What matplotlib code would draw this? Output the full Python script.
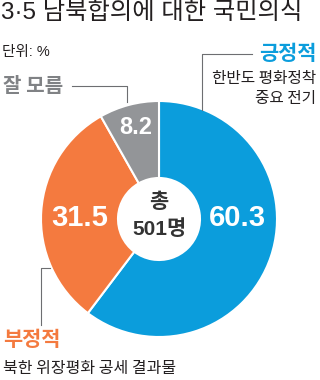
import matplotlib
matplotlib.use("Agg")
import matplotlib.pyplot as plt

# data
labels = ["긍정적", "부정적", "잘 모름"]
values = [60.3, 31.5, 8.2]
colors = ["#0b9ddc", "#f47a3f", "#939598"]
notes = {"긍정적": "한반도 평화정착\n중요 전기", "부정적": "북한 위장평화 공세 결과물"}

KR = "Noto Sans CJK KR"
LAT = ["Liberation Sans", KR]
plt.rcParams["font.family"] = [KR, "DejaVu Sans"]

W, H = 320, 380
fig = plt.figure(figsize=(3.2, 3.8), dpi=100)
ax = fig.add_axes([0, 0, 1, 1])


def Y(y):
    return H - y


cx, cy, R, r = 159, 219, 118, 41
ax.pie(values, colors=colors, startangle=90, counterclock=False,
       radius=R, center=(cx, Y(cy)),
       wedgeprops=dict(width=R - r, edgecolor="white", linewidth=1.5))
ax.set_xlim(0, W)
ax.set_ylim(0, H)
ax.axis("off")

# values inside wedges
ax.text(237, Y(218), f"{values[0]}", color="white", fontsize=21, fontweight="bold",
        family=LAT, ha="center", va="center")
ax.text(80, Y(218), f"{values[1]}", color="white", fontsize=21, fontweight="bold",
        family=LAT, ha="center", va="center")
ax.text(136, Y(127), f"{values[2]}", color="white", fontsize=17, fontweight="bold",
        family=LAT, ha="center", va="center")

# centre
ax.text(cx, Y(201), "총", color="#333333", fontsize=15, fontweight="bold", ha="center", va="center")
ax.text(cx, Y(229), "501명", color="#333333", fontsize=15, fontweight="bold",
        family=LAT, ha="center", va="center")

# title
ax.text(1, Y(13), "3·5 남북합의에 대한 국민의식", color="#231f20", fontsize=17.5,
        family=LAT, ha="left", va="center")
ax.text(2, Y(52), "단위: %", color="#231f20", fontsize=10.5, family=LAT, ha="left", va="center")

# labels
ax.text(316, Y(54), labels[0], color=colors[0], fontsize=15, fontweight="bold", ha="right", va="center")
ax.text(316, Y(78), "한반도 평화정착", color="#231f20", fontsize=11.3, ha="right", va="center")
ax.text(316, Y(98), "중요 전기", color="#231f20", fontsize=11.3, ha="right", va="center")
ax.text(3, Y(86), labels[2], color="#808285", fontsize=14.5, fontweight="bold", ha="left", va="center")
ax.text(3, Y(340), labels[1], color=colors[1], fontsize=15, fontweight="bold", ha="left", va="center")
ax.text(3, Y(368), notes["부정적"], color="#231f20", fontsize=11.5, ha="left", va="center")

# leader lines
lc = "#6d6e71"
ax.plot([252, 202, 202], [Y(54), Y(54), Y(110)], color=lc, lw=0.8)
ax.plot([72, 127, 127], [Y(86), Y(86), Y(102)], color=lc, lw=0.8)
ax.plot([50, 41, 41], [Y(268), Y(268), Y(325)], color=lc, lw=0.8)

fig.savefig("out.png", dpi=100)
